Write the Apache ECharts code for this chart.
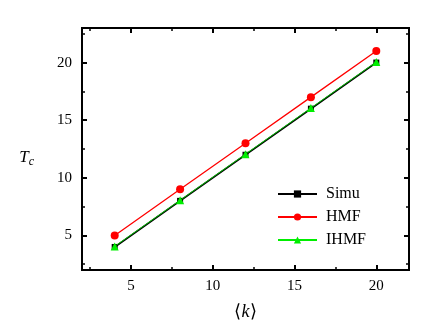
<!DOCTYPE html>
<html><head><meta charset="utf-8">
<script src="https://cdn.jsdelivr.net/npm/echarts@6/dist/echarts.min.js"></script>
<style>html,body{margin:0;padding:0;background:#fff}#c{width:431px;height:334px}</style>
</head><body><div id="c"></div>
<script>
const kValues = [4, 8, 12, 16, 20];
const simu = [4, 8, 12, 16, 20];
const hmf = [5, 9, 13, 17, 21];
const ihmf = [4.05, 8.05, 12.05, 16.05, 20.05];
const seriesNames = ['Simu', 'HMF', 'IHMF'];
const xMajor = [5, 10, 15, 20];
const xMinor = [2.5, 7.5, 12.5, 17.5];
const yMajor = [5, 10, 15, 20];
const yMinor = [2.5, 7.5, 12.5, 17.5, 22.5];

const FONT = 'Liberation Serif';
const chart = echarts.init(document.getElementById('c'));
const pair = (ys) => kValues.map((k, i) => [k, ys[i]]);

function mkAxis(min, max, pos, ticks, len, labels, extra) {
  return Object.assign({
    type: 'value', min: min, max: max, position: pos,
    axisLine: {show: true, onZero: false, lineStyle: {color: '#000', width: 2}},
    axisTick: {show: true, inside: true, length: len, customValues: ticks, lineStyle: {color: '#000', width: len > 4 ? 2 : 1.5}},
    axisLabel: labels ? {show: true, customValues: ticks, color: '#000', fontSize: 15, fontFamily: FONT, margin: labels}
                      : {show: false},
    splitLine: {show: false}
  }, extra || {});
}

chart.setOption({
  animation: false,
  textStyle: {fontFamily: FONT},
  grid: {left: 82, right: 22, top: 28, bottom: 64},
  xAxis: [
    mkAxis(2, 22, 'bottom', xMajor, 5, 9, {
      name: '{a|⟨}{b|k}{a|⟩}', nameLocation: 'middle', nameGap: 33,
      nameTextStyle: {rich: {a: {fontSize: 18, fontFamily: FONT, color: '#000'}, b: {fontSize: 18, fontStyle: 'italic', fontFamily: FONT, color: '#000', padding: [0, 1, 0, 1]}}}}),
    mkAxis(2, 22, 'bottom', xMinor, 3, 0),
    mkAxis(2, 22, 'top', xMajor, 5, 0),
    mkAxis(2, 22, 'top', xMinor, 3, 0)
  ],
  yAxis: [
    mkAxis(2, 23, 'left', yMajor, 5, 10, {
      name: '{t|T}{s|c}', nameLocation: 'middle', nameGap: 48, nameRotate: 0,
      nameTextStyle: {padding: [18, 0, 0, 0], rich: {t: {fontSize: 17, fontStyle: 'italic', fontFamily: FONT, color: '#000'}, s: {fontSize: 12, fontStyle: 'italic', fontFamily: FONT, color: '#000', padding: [8, 0, 0, 0]}}}}),
    mkAxis(2, 23, 'left', yMinor, 3, 0),
    mkAxis(2, 23, 'right', yMajor, 5, 0),
    mkAxis(2, 23, 'right', yMinor, 3, 0)
  ],
  legend: {
    left: 272, top: 180, orient: 'vertical', itemWidth: 39, itemHeight: 9, itemGap: 5,
    textStyle: {fontFamily: FONT, fontSize: 16, lineHeight: 18, color: '#000', padding: [0, 0, 0, 4]},
    data: seriesNames
  },
  series: [
    {name: seriesNames[0], type: 'line', data: pair(simu), symbol: 'rect', symbolSize: 6,
      lineStyle: {color: '#000', width: 1.8}, itemStyle: {color: '#000'}, z: 2},
    {name: seriesNames[1], type: 'line', data: pair(hmf), symbol: 'circle', symbolSize: 8,
      lineStyle: {color: '#ff0000', width: 1.3}, itemStyle: {color: '#ff0000'}, z: 3},
    {name: seriesNames[2], type: 'line', data: pair(ihmf), symbol: 'triangle', symbolSize: 8,
      lineStyle: {color: '#00ee00', width: 0.8}, itemStyle: {color: '#00ee00'}, z: 4}
  ]
});
</script></body></html>
